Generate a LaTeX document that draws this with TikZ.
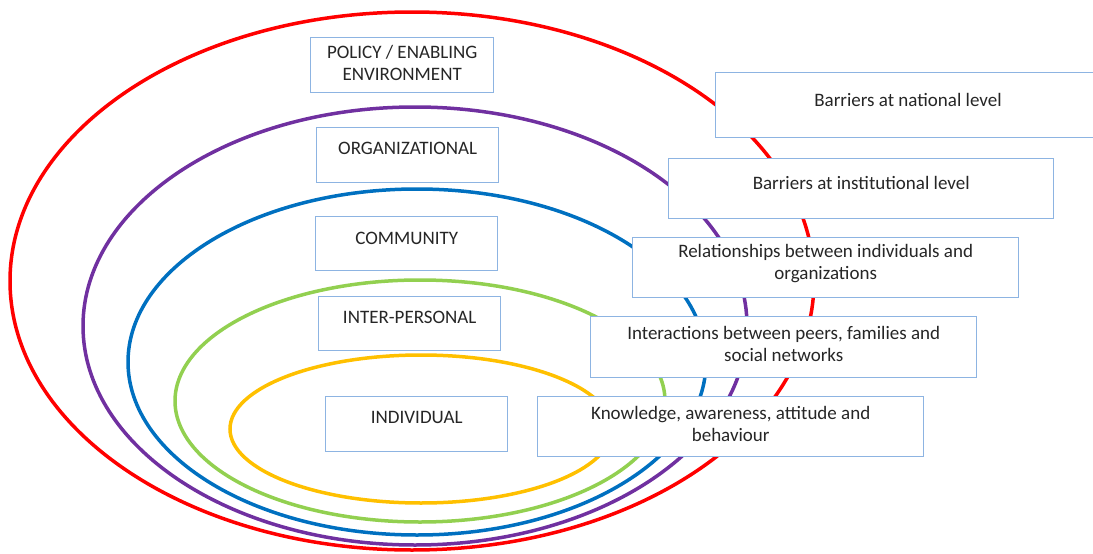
\documentclass[tikz,border=0pt]{standalone}
\usepackage{fontspec}
\setmainfont{Carlito}
\usepackage{tikz}

\definecolor{ringred}{HTML}{FF0000}
\definecolor{ringpurple}{HTML}{7030A0}
\definecolor{ringblue}{HTML}{0070C0}
\definecolor{ringgreen}{HTML}{92D050}
\definecolor{ringyellow}{HTML}{FFC000}
\definecolor{boxblue}{HTML}{8DB4E2}
\definecolor{textgrey}{HTML}{262626}

\tikzset{
  ring/.style={line width=3.5pt},
  levelbox/.style={draw=boxblue, fill=white, line width=1.4pt, anchor=north west, inner sep=0pt},
  leveltext/.style={align=center, text=textgrey, font=\fontsize{19}{22}\selectfont}
}

\begin{document}
\begin{tikzpicture}[x=1pt, y=-1pt]

\useasboundingbox (0,0) rectangle (1093,554);

% the five levels, outermost first
\draw[ring, ringred]    (412,281) ellipse [x radius=402, y radius=269];
\draw[ring, ringpurple] (415,326) ellipse [x radius=332, y radius=219];
\draw[ring, ringblue]   (417,362) ellipse [x radius=289, y radius=173];
\draw[ring, ringgreen]  (420,401) ellipse [x radius=245, y radius=121];
\draw[ring, ringyellow] (421,429) ellipse [x radius=191, y radius=74];

% level names
\node[levelbox, minimum width=183, minimum height=55] (policy) at (310,37) {};
\node[leveltext] (policytxt) at ([yshift=-26pt]policy.north) {POLICY / ENABLING\\ENVIRONMENT};

\node[levelbox, minimum width=182, minimum height=55] (org) at (316,127) {};
\node[leveltext] (orgtxt) at ([yshift=-21pt]org.north) {ORGANIZATIONAL};

\node[levelbox, minimum width=182, minimum height=54] (comm) at (315,216) {};
\node[leveltext] (commtxt) at ([yshift=-22pt]comm.north) {COMMUNITY};

\node[levelbox, minimum width=182, minimum height=54] (inter) at (318,296) {};
\node[leveltext] (intertxt) at ([yshift=-21pt]inter.north) {INTER-PERSONAL};

\node[levelbox, minimum width=182, minimum height=55] (indiv) at (325,396) {};
\node[leveltext] (indivtxt) at ([yshift=-21pt]indiv.north) {INDIVIDUAL};

% what each level stands for
\node[levelbox, minimum width=390, minimum height=65] (natl) at (715,72) {};
\node[leveltext] (natltxt) at ([xshift=193pt, yshift=-28pt]natl.north west) {Barriers at national level};

\node[levelbox, minimum width=385, minimum height=60] (inst) at (668,158) {};
\node[leveltext] (insttxt) at ([yshift=-25pt]inst.north) {Barriers at institutional level};

\node[levelbox, minimum width=386, minimum height=60] (rel) at (632,237) {};
\node[leveltext] (reltxt) at ([yshift=-27pt]rel.north) {Relationships between individuals and\\organizations};

\node[levelbox, minimum width=386, minimum height=61] (peer) at (590,316) {};
\node[leveltext] (peertxt) at ([yshift=-28pt]peer.north) {Interactions between peers, families and\\social networks};

\node[levelbox, minimum width=386, minimum height=60] (know) at (537,396) {};
\node[leveltext] (knowtxt) at ([yshift=-28pt]know.north) {Knowledge, awareness, attitude and\\behaviour};

\end{tikzpicture}
\end{document}
